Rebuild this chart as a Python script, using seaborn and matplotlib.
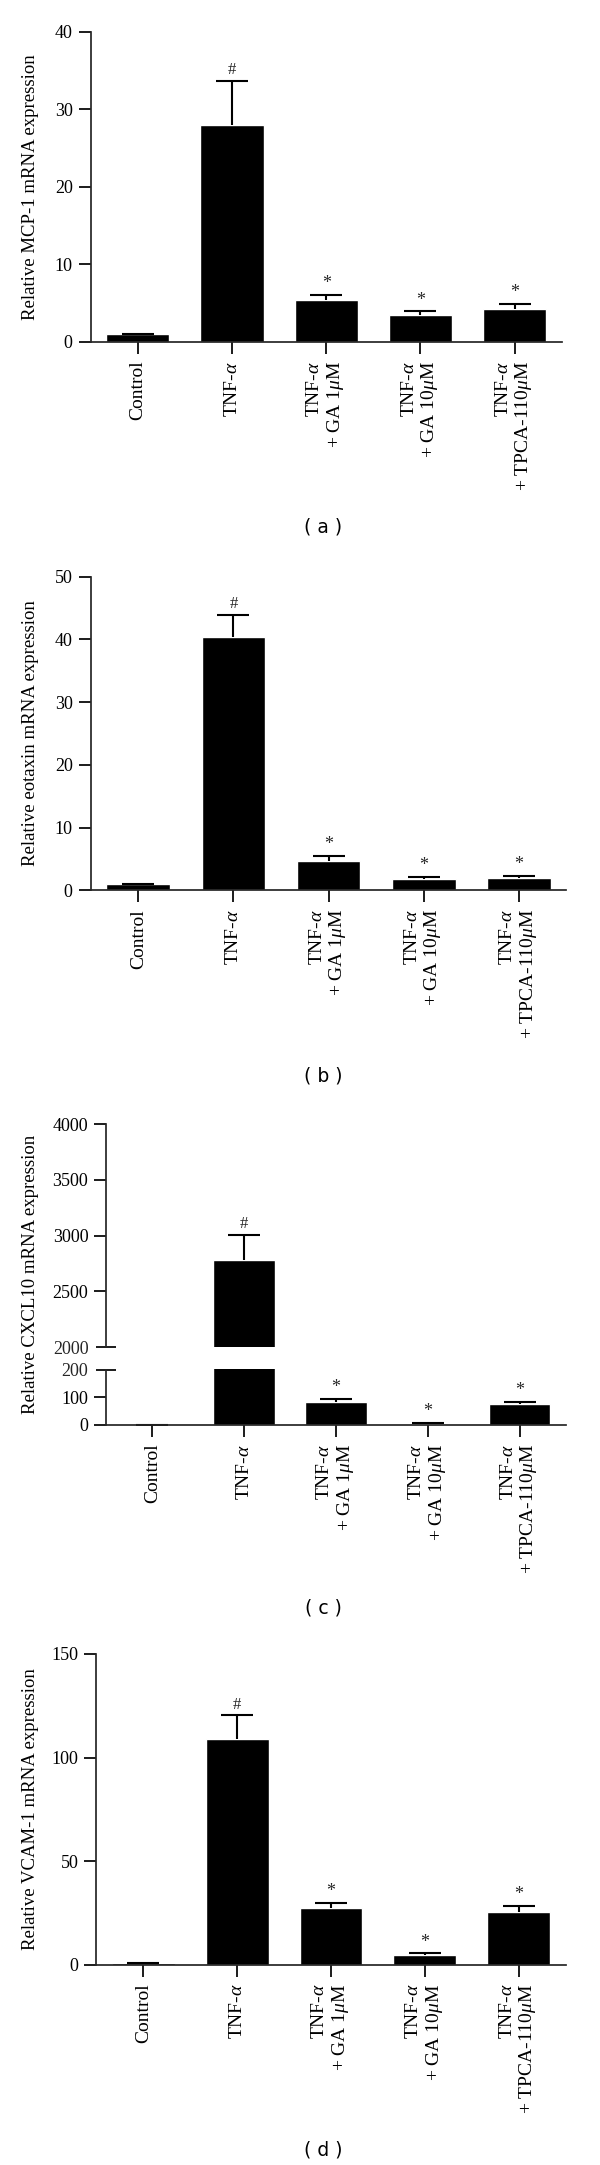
import numpy as np
import pandas as pd
import matplotlib
matplotlib.use("Agg")
import matplotlib.pyplot as plt
import seaborn as sns
from matplotlib.ticker import FixedLocator, FixedFormatter

# ---------------- data ----------------
categories = [
    "Control",
    "TNF-$\\alpha$",
    "TNF-$\\alpha$\n+ GA 1$\\mu$M",
    "TNF-$\\alpha$\n+ GA 10$\\mu$M",
    "TNF-$\\alpha$\n+ TPCA-110$\\mu$M",
]
marks = ["", "#", "*", "*", "*"]

mcp_mean = [1.0, 28.0, 5.45, 3.43, 4.26]
mcp_sem = [0.0, 5.6, 0.65, 0.5, 0.65]

eot_mean = [1.0, 40.4, 4.64, 1.87, 1.98]
eot_sem = [0.0, 3.5, 0.8, 0.28, 0.28]

cxcl_mean = [1.0, 2780.0, 84.0, 4.0, 75.0]
cxcl_sem = [0.0, 224.0, 10.0, 2.0, 9.0]

vcam_mean = [1.0, 108.8, 27.2, 4.85, 25.5]
vcam_sem = [0.0, 11.6, 2.7, 0.65, 2.9]

ylabels = [
    "Relative MCP-1 mRNA expression",
    "Relative eotaxin mRNA expression",
    "Relative CXCL10 mRNA expression",
    "Relative VCAM-1 mRNA expression",
]
panel_labels = ["( a )", "( b )", "( c )", "( d )"]

# ---------------- style ----------------
sns.set_style("ticks")
plt.rcParams["font.family"] = ["Liberation Serif", "DejaVu Serif"]
plt.rcParams["mathtext.fontset"] = "custom"
plt.rcParams["mathtext.rm"] = "Liberation Serif"
plt.rcParams["mathtext.it"] = "Liberation Serif:italic"
plt.rcParams["axes.linewidth"] = 1.25

W, H = 600, 2165
fig = plt.figure(figsize=(W / 100, H / 100), dpi=100)


def rect(l, r, t, b):
    return [l / W, 1 - b / H, (r - l) / W, (b - t) / H]


def style_axis(ax, show_x=True):
    sns.despine(ax=ax)
    ax.tick_params(axis="y", which="major", length=8.8, width=1.25, pad=4.2,
                   labelsize=13, color="black", labelcolor="black")
    ax.tick_params(axis="x", which="major", length=8.5, width=1.25, pad=5,
                   labelsize=14, color="black", labelcolor="black")
    ax.set_xlabel("")
    ax.set_ylabel("")
    ax.set_xlim(-0.5, len(categories) - 0.5)
    ax.set_facecolor("white")
    if show_x:
        ax.set_xticks(range(len(categories)))
        ax.set_xticklabels(categories, rotation=90, ha="center", va="top",
                           multialignment="right", linespacing=1.1)
    else:
        ax.spines["bottom"].set_visible(False)
        ax.tick_params(axis="x", bottom=False, labelbottom=False)


def draw_bars(ax, mean, sem):
    df = pd.DataFrame({"group": categories, "value": mean})
    sns.barplot(data=df, x="group", y="value", order=categories, color="black",
                saturation=1, width=0.67, errorbar=None, ax=ax)
    x = np.arange(len(categories))
    _, caps, _ = ax.errorbar(x, mean, yerr=[np.zeros(len(mean)), sem], fmt="none",
                             ecolor="black", elinewidth=1.5, capsize=11.5,
                             capthick=1.5)
    if len(caps) == 2:
        caps[0].set_visible(False)  # no cap at the bar top
    for xi, m, s, t in zip(x, mean, sem, marks):
        if t:
            ax.annotate(t, (xi, m + s), xytext=(0, 2.0), textcoords="offset points",
                        ha="center", va="bottom",
                        fontsize=12 if t == "#" else 13,
                        annotation_clip=True)


def add_inout_tick(ax, value, label):
    ax.yaxis.set_minor_locator(FixedLocator([value]))
    ax.yaxis.set_minor_formatter(FixedFormatter([label]))
    ax.tick_params(axis="y", which="minor", direction="inout", length=14.8,
                   width=1.25, pad=5.5, labelsize=13, color="black")
    ax.tick_params(axis="x", which="minor", bottom=False)


# ---------------- panel a ----------------
axA = fig.add_axes(rect(90.7, 561.7, 31.5, 342))
draw_bars(axA, mcp_mean, mcp_sem)
style_axis(axA)
axA.set_ylim(0, 40)
axA.set_yticks([0, 10, 20, 30, 40])

# ---------------- panel b ----------------
axB = fig.add_axes(rect(90.7, 566.4, 576.7, 890.3))
draw_bars(axB, eot_mean, eot_sem)
style_axis(axB)
axB.set_ylim(0, 50)
axB.set_yticks([0, 10, 20, 30, 40, 50])

# ---------------- panel c (broken axis) ----------------
axCt = fig.add_axes(rect(106.4, 565.6, 1124.1, 1347.2))
draw_bars(axCt, cxcl_mean, cxcl_sem)
style_axis(axCt, show_x=False)
axCt.set_ylim(2000, 4000)
axCt.set_yticks([2500, 3000, 3500, 4000])
add_inout_tick(axCt, 2000, "2000")

axCb = fig.add_axes(rect(106.4, 565.6, 1368.5, 1424.9))
draw_bars(axCb, cxcl_mean, cxcl_sem)
style_axis(axCb)
axCb.set_ylim(0, 205)
axCb.set_yticks([0, 100])
axCb.spines["left"].set_bounds(0, 200)
add_inout_tick(axCb, 200, "200")

# ---------------- panel d ----------------
axD = fig.add_axes(rect(96.4, 565.6, 1654, 1964.7))
draw_bars(axD, vcam_mean, vcam_sem)
style_axis(axD)
axD.set_ylim(0, 150)
axD.set_yticks([0, 50, 100, 150])

# ---------------- labels ----------------
ylabel_centers = [(31.5 + 342) / 2, (576.7 + 890.3) / 2, (1124.1 + 1424.9) / 2,
                  (1654 + 1964.7) / 2]
for lab, yc in zip(ylabels, ylabel_centers):
    fig.text(31 / W, 1 - yc / H, lab, rotation=90, ha="center", va="center",
             fontsize=13.5, color="black")

panel_y = [526.6, 1076, 1607.8, 2150]
for lab, yp in zip(panel_labels, panel_y):
    fig.text(323 / W, 1 - yp / H, lab, ha="center", va="center",
             family=["DejaVu Sans"], fontsize=13.5, color="black")

fig.savefig("out.png", dpi=100, facecolor="white")
